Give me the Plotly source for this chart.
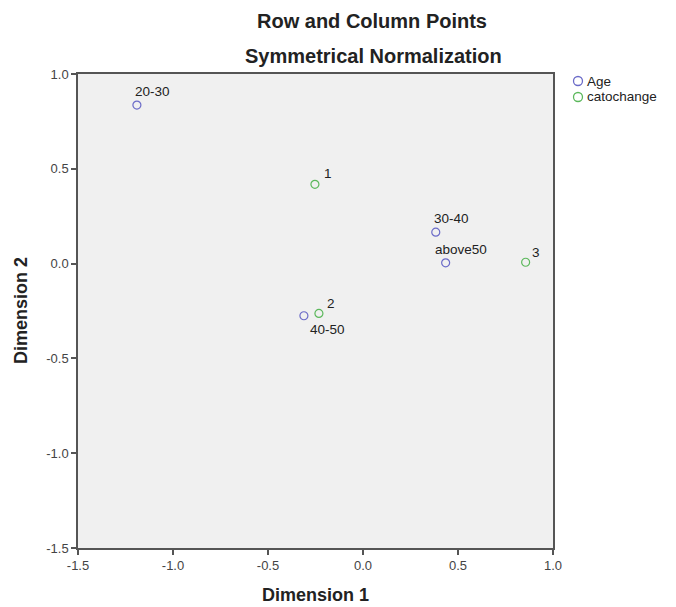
import plotly.graph_objects as go

age_labels = ["20-30", "30-40", "40-50", "above50"]
age_dim1 = [-1.19, 0.383, -0.311, 0.435]
age_dim2 = [0.836, 0.166, -0.275, 0.004]

cat_labels = ["1", "2", "3"]
cat_dim1 = [-0.253, -0.232, 0.856]
cat_dim2 = [0.418, -0.263, 0.007]

tick_vals = [-1.5, -1.0, -0.5, 0.0, 0.5, 1.0]
tick_text = ["-1.5", "-1.0", "-0.5", "0.0", "0.5", "1.0"]

legend_names = ["Age", "catochange"]

# label placement (pixel offsets of text left edge / centre from the point)
age_label_shift = [(-4, 14), (-4, 14), (4, -14), (-13, 13)]
cat_label_shift = [(7, 11), (6, 10), (4, 10)]

font = "Liberation Sans, Arial, sans-serif"
AGE_COLOR = "#6b6bc8"
CAT_COLOR = "#5cb85c"
colors = [AGE_COLOR, CAT_COLOR]

fig = go.Figure()
fig.add_trace(go.Scatter(
    x=age_dim1, y=age_dim2, mode="markers", name=legend_names[0],
    marker=dict(symbol="circle-open", size=8, color=AGE_COLOR, line=dict(width=1.2)),
))
fig.add_trace(go.Scatter(
    x=cat_dim1, y=cat_dim2, mode="markers", name=legend_names[1],
    marker=dict(symbol="circle-open", size=8, color=CAT_COLOR, line=dict(width=1.2)),
))

annotations = []
for labels, xs, ys, shifts in [(age_labels, age_dim1, age_dim2, age_label_shift),
                               (cat_labels, cat_dim1, cat_dim2, cat_label_shift)]:
    for t, xv, yv, (dx, dy) in zip(labels, xs, ys, shifts):
        annotations.append(dict(
            text=t, x=xv, y=yv, xref="x", yref="y", showarrow=False,
            xanchor="left", yanchor="middle", xshift=dx, yshift=dy,
            font=dict(family=font, size=13.5, color="#222"),
        ))

axis_common = dict(
    tickvals=tick_vals, ticktext=tick_text, showgrid=False, zeroline=False,
    showline=True, linecolor="#555", linewidth=1.5, mirror=True,
    ticks="outside", ticklen=5, tickcolor="#555", tickwidth=1.5,
    tickfont=dict(family=font, size=13, color="#444"),
)

W, H = 668, 599
ML, MR, MT, MB = 70, 123, 66, 59
pw = W - ML - MR
ph = H - MT - MB


def px_to_paper(px, py):
    # px, py: page pixel coordinates (page has 8px body offset)
    fx = px - 8
    fy = py - 8
    return (fx - ML) / pw, (H - fy - MB) / ph


for text, (px, py) in [("<b>Row and Column Points</b>", (372, 21)),
                       ("<b>Symmetrical Normalization</b>", (373, 56))]:
    xx, yy = px_to_paper(px, py)
    annotations.append(dict(text=text, x=xx, y=yy, xref="paper", yref="paper",
                            xanchor="center", yanchor="middle", showarrow=False,
                            font=dict(family=font, size=20, color="#222")))

# axis titles
xx, yy = px_to_paper(315.5, 595)
annotations.append(dict(text="<b>Dimension 1</b>", x=xx, y=yy, xref="paper", yref="paper",
                        xanchor="center", yanchor="middle", showarrow=False,
                        font=dict(family=font, size=18, color="#222")))
xx, yy = px_to_paper(21, 311)
annotations.append(dict(text="<b>Dimension 2</b>", x=xx, y=yy, xref="paper", yref="paper",
                        xanchor="center", yanchor="middle", showarrow=False, textangle=-90,
                        font=dict(family=font, size=18, color="#222")))

# legend drawn at fixed pixel position
shapes = []
for i, (name, col) in enumerate(zip(legend_names, colors)):
    cy = 81 + 16 * i
    xx, yy = px_to_paper(578, cy)
    shapes.append(dict(type="circle", xref="paper", yref="paper",
                       xsizemode="pixel", ysizemode="pixel", xanchor=xx, yanchor=yy,
                       x0=-4.5, x1=4.5, y0=-4.5, y1=4.5,
                       line=dict(color=col, width=1.3), fillcolor="rgba(0,0,0,0)"))
    tx, ty = px_to_paper(585, cy)
    annotations.append(dict(text=name, x=tx, y=ty, xref="paper", yref="paper",
                            xanchor="left", yanchor="middle", showarrow=False,
                            font=dict(family=font, size=13.5, color="#222")))

fig.update_layout(
    width=W, height=H,
    margin=dict(l=ML, r=MR, t=MT, b=MB),
    paper_bgcolor="white", plot_bgcolor="#f0f0f0",
    xaxis=dict(range=[-1.5, 1.0], **axis_common),
    yaxis=dict(range=[-1.5, 1.0], **axis_common),
    showlegend=False,
    annotations=annotations,
    shapes=shapes,
)

fig.write_html("out.html")
